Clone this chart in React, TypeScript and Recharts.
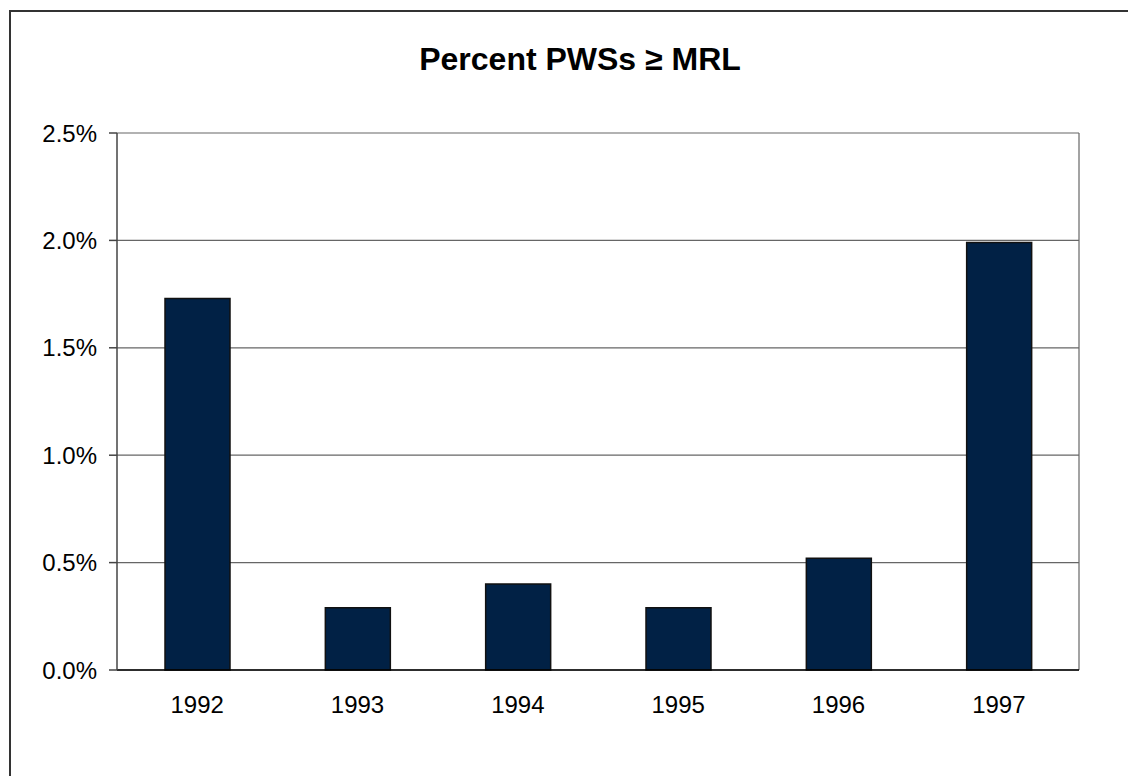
import React from "react";
import { Bar, BarChart, CartesianGrid, XAxis, YAxis } from "recharts";

// 年ごとのカテゴリと値（%）
const years = ["1992", "1993", "1994", "1995", "1996", "1997"];
const percentAboveMrl = [1.73, 0.29, 0.4, 0.29, 0.52, 1.99];
const yTicks = [0, 0.5, 1.0, 1.5, 2.0, 2.5];

const data = years.map((year, i) => ({ year, value: percentAboveMrl[i] }));

const FONT = "'Liberation Sans', Arial, sans-serif";

export default function App() {
  return (
    <div
      style={{
        position: "absolute",
        left: 0,
        top: 0,
        width: 1128,
        height: 776,
        overflow: "hidden",
        background: "#fff",
        fontFamily: FONT,
      }}
    >
      <div
        style={{
          position: "absolute",
          left: 9,
          top: 10,
          width: 1300,
          height: 900,
          border: "2px solid #333",
          boxSizing: "border-box",
        }}
      />
      <div
        style={{
          position: "absolute",
          left: 0,
          top: 43,
          width: 1160,
          textAlign: "center",
          fontSize: 32,
          lineHeight: 1,
          fontWeight: "bold",
          color: "#000",
        }}
      >
        Percent PWSs ≥ MRL
      </div>
      <div style={{ position: "absolute", left: 0, top: 0 }}>
        <BarChart
          width={1128}
          height={776}
          data={data}
          margin={{ top: 133, right: 49, left: 57, bottom: 66 }}
          barSize={65}
        >
          {/* 右端の枠線はプロット領域の右端から */}
          <CartesianGrid
            stroke="#666"
            strokeWidth={1.2}
            verticalCoordinatesGenerator={(props: any) => [props.offset.left + props.offset.width]}
          />
          <XAxis
            dataKey="year"
            tickLine={false}
            tickSize={0}
            tickMargin={26}
            height={40}
            axisLine={{ stroke: "#000", strokeWidth: 1.5 }}
            tick={{ fontSize: 24, fill: "#000", fontFamily: FONT }}
          />
          <YAxis
            domain={[0, 2.5]}
            ticks={yTicks}
            width={60}
            tickSize={8}
            tickMargin={12}
            tickFormatter={(v: number) => `${v.toFixed(1)}%`}
            axisLine={{ stroke: "#444", strokeWidth: 1.5 }}
            tickLine={{ stroke: "#444", strokeWidth: 1.5 }}
            tick={{ fontSize: 24, fill: "#000", fontFamily: FONT }}
          />
          <Bar
            dataKey="value"
            fill="#012145"
            stroke="#111"
            strokeWidth={1.5}
            isAnimationActive={false}
          />
        </BarChart>
      </div>
    </div>
  );
}
